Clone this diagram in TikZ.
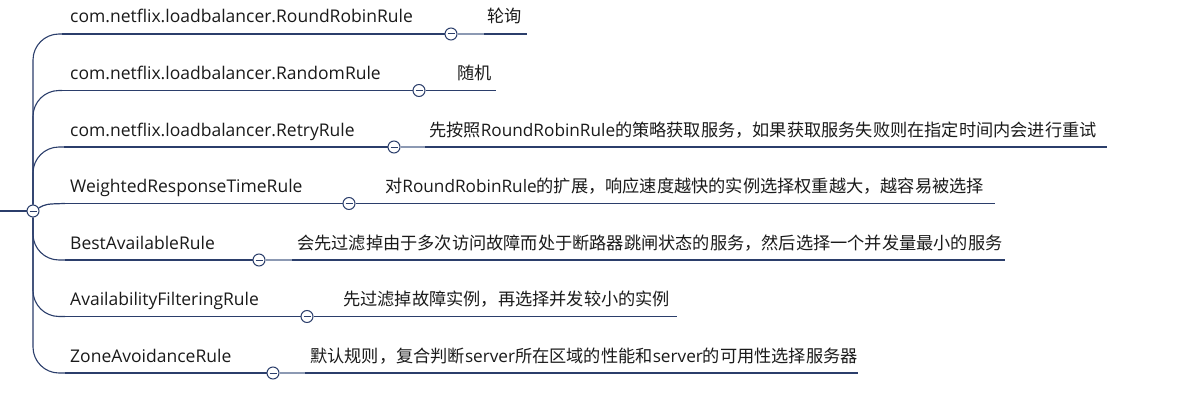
\documentclass[tikz,border=0pt]{standalone}
\usepackage{fontspec}
\setmainfont{Noto Sans CJK SC}
\newfontfamily\lat{Open Sans}
\definecolor{navy}{HTML}{2B3E6B}
\definecolor{lightln}{HTML}{8C99B3}
\definecolor{txt}{HTML}{1A1A1A}
\begin{document}
\begin{tikzpicture}[x=1pt,y=-1pt,
  ln/.style={draw=navy,line width=1.2pt},
  br/.style={draw=navy,line width=1.1pt,rounded corners=26pt},
  knob/.style={circle,draw=navy,fill=white,line width=1pt,minimum size=12pt,inner sep=0pt,
    path picture={\draw[navy,line width=1pt] ([xshift=-3.5pt]path picture bounding box.center) -- ([xshift=3.5pt]path picture bounding box.center);}},
  lbl/.style={anchor=base west,inner sep=0pt,text=txt,font=\lat\fontsize{17.5}{20}\selectfont},
  desc/.style={anchor=base west,inner sep=0pt,text=txt,font=\fontsize{17.2}{20}\selectfont},
  lite/.style={draw=lightln,line width=2pt}]
\useasboundingbox (0,0) rectangle (1193,412);
% root
\coordinate (root) at (0,211);
\node[knob] (c0) at (33,211) {};
% row 1
\coordinate (b1) at (62,34);
\node[lbl] (l1) at (70,23) {com.netflix.loadbalancer.RoundRobinRule};
\node[knob] (k1) at (451,34) {};
\coordinate (m1) at (484,34);
\coordinate (e1) at (527,34);
\node[desc] (r1) at (487,23) {轮询};
% row 2
\coordinate (b2) at (62,90.5);
\node[lbl] (l2) at (70,79.5) {com.netflix.loadbalancer.RandomRule};
\node[knob] (k2) at (419,90.5) {};
\coordinate (e2) at (496,90.5);
\node[desc] (r2) at (457,79.5) {随机};
% row 3
\coordinate (b3) at (64,147);
\node[lbl] (l3) at (70,136) {com.netflix.loadbalancer.RetryRule};
\node[knob] (k3) at (394,147) {};
\coordinate (m3) at (425,147);
\coordinate (e3) at (1107,147);
\node[desc] (r3) at (429,136) {先按照{\lat RoundRobinRule}的策略获取服务，如果获取服务失败则在指定时间内会进行重试};
% row 4
\coordinate (b4) at (65,203.5);
\node[lbl] (l4) at (70,192.5) {WeightedResponseTimeRule};
\node[knob] (k4) at (349,203.5) {};
\coordinate (e4) at (995,203.5);
\node[desc] (r4) at (385,192.5) {对{\lat RoundRobinRule}的扩展，响应速度越快的实例选择权重越大，越容易被选择};
% row 5
\coordinate (b5) at (65,260);
\node[lbl] (l5) at (70,249) {BestAvailableRule};
\node[knob] (k5) at (259,260) {};
\coordinate (m5) at (292,260);
\coordinate (e5) at (1005,260);
\node[desc] (r5) at (297,249) {会先过滤掉由于多次访问故障而处于断路器跳闸状态的服务，然后选择一个并发量最小的服务};
% row 6
\coordinate (b6) at (65,316.5);
\node[lbl] (l6) at (70,305.5) {AvailabilityFilteringRule};
\node[knob] (k6) at (307,316.5) {};
\coordinate (e6) at (677,316.5);
\node[desc] (r6) at (343,305.5) {先过滤掉故障实例，再选择并发较小的实例};
% row 7
\coordinate (b7) at (65,373);
\node[lbl] (l7) at (70,362) {ZoneAvoidanceRule};
\node[knob] (k7) at (273,373) {};
\coordinate (m7) at (305,373);
\coordinate (e7) at (858,373);
\node[desc] (r7) at (310,362) {默认规则，复合判断{\lat server}所在区域的性能和{\lat server}的可用性选择服务器};
% connectors
\draw[ln] (root) -- (c0);
\foreach \i in {1,2,3,5,6,7}{\draw[br] (c0) |- (b\i);}
\draw[ln] (c0) .. controls (46,204) .. (b4);
\foreach \i in {1,...,7}{\draw[ln] (b\i) -- (k\i) -- (e\i);}
\foreach \i in {1,3,5,7}{\draw[lite] (k\i) -- (m\i);}
\end{tikzpicture}
\end{document}
